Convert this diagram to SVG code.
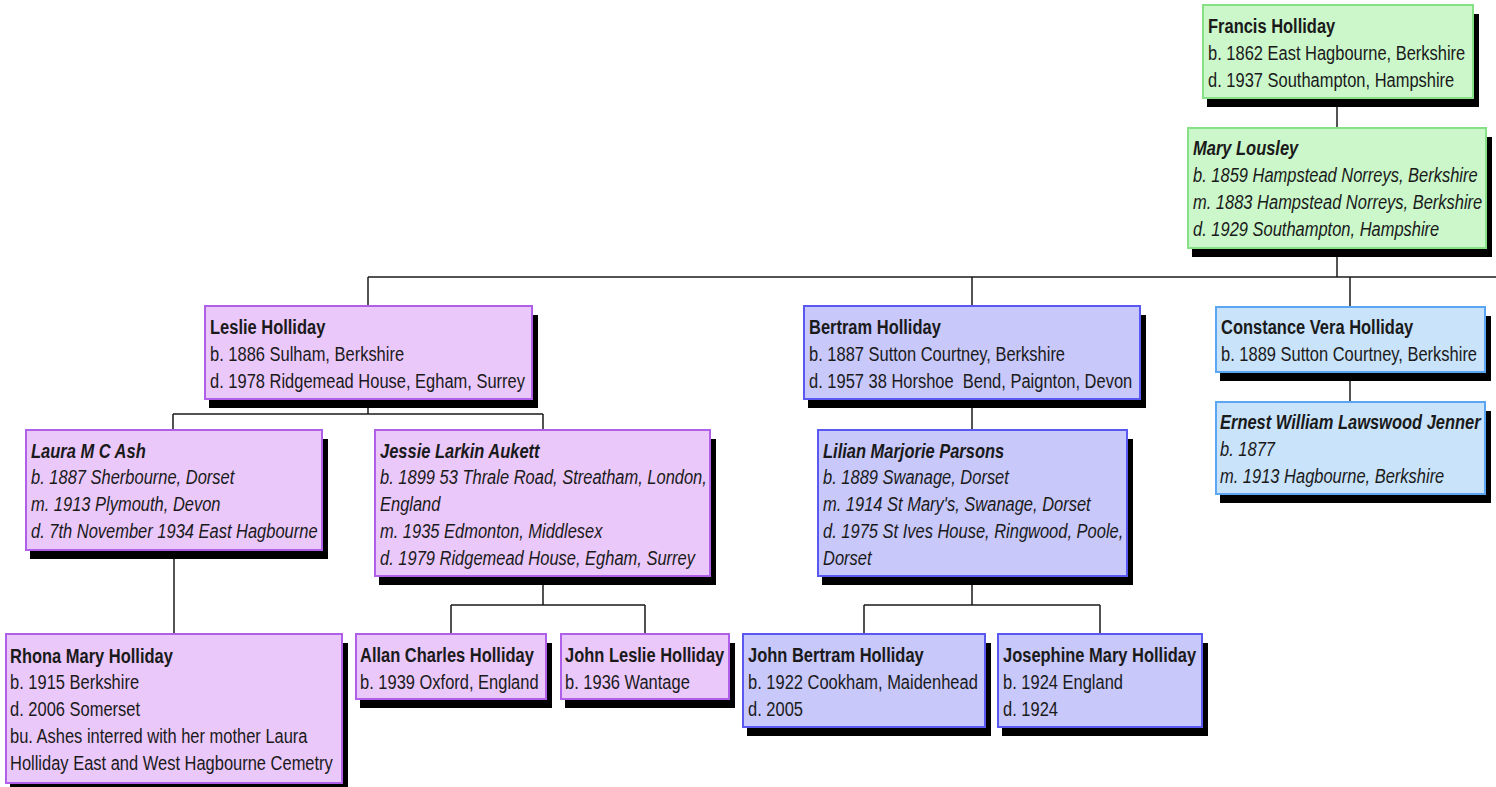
<svg xmlns="http://www.w3.org/2000/svg" width="1496" height="787" viewBox="0 0 1496 787">
<style>
  .bg { fill: #ffffff; }
  .s { fill: #000000; }
  .b { stroke-width: 2; }
  .g .b { fill: #cbf7cb; stroke: #86e086; }
  .p .b { fill: #eac8fa; stroke: #b05fe8; }
  .v .b { fill: #c8c8fa; stroke: #5959f2; }
  .c .b { fill: #c9e3fb; stroke: #5aa6f2; }
  .t { font-family: "Liberation Sans", Arial, sans-serif; font-size: 21px; fill: #1a1a1a; }
  .i { font-style: italic; }
  .n { font-weight: bold; }
  #connectors path { fill: none; stroke: #1a1a1a; stroke-width: 1.5; }
</style>
<rect class="bg" x="0" y="0" width="1496" height="787"/>

<g id="connectors">
  <path d="M1337,98 V128"/>
  <path d="M1337,248 V277"/>
  <path d="M368,277 H1496"/>
  <path d="M368,277 V306"/>
  <path d="M972,277 V306"/>
  <path d="M1350,277 V307"/>
  <path d="M1350,372 V402"/>
  <path d="M368,399 V414 M173,414 H543 M173,414 V430 M543,414 V430"/>
  <path d="M174,550 V634"/>
  <path d="M543,576 V605 M451,605 H645 M451,605 V634 M645,605 V634"/>
  <path d="M972,399 V430"/>
  <path d="M972,576 V605 M864,605 H1100 M864,605 V634 M1100,605 V634"/>
</g>

<g id="n-francis" class="g">
  <rect class="s" x="1207" y="14" width="272" height="93"/>
  <rect class="b" x="1203" y="5" width="270" height="93"/>
  <text class="t" transform="translate(1208,33) scale(0.785,1)"><tspan class="n" x="0" y="0">Francis Holliday</tspan><tspan x="0" dy="27">b. 1862 East Hagbourne, Berkshire</tspan><tspan x="0" dy="27">d. 1937 Southampton, Hampshire</tspan></text>
</g>

<g id="n-mary" class="g">
  <rect class="s" x="1192" y="137" width="300" height="120"/>
  <rect class="b" x="1188" y="128" width="298" height="120"/>
  <text class="t i" transform="translate(1193,155) scale(0.785,1)"><tspan class="n" x="0" y="0">Mary Lousley</tspan><tspan x="0" dy="27">b. 1859 Hampstead Norreys, Berkshire</tspan><tspan x="0" dy="27">m. 1883 Hampstead Norreys, Berkshire</tspan><tspan x="0" dy="27">d. 1929 Southampton, Hampshire</tspan></text>
</g>

<g id="n-leslie" class="p">
  <rect class="s" x="209" y="315" width="329" height="93"/>
  <rect class="b" x="205" y="306" width="327" height="93"/>
  <text class="t" transform="translate(210,334) scale(0.785,1)"><tspan class="n" x="0" y="0">Leslie Holliday</tspan><tspan x="0" dy="27">b. 1886 Sulham, Berkshire</tspan><tspan x="0" dy="27">d. 1978 Ridgemead House, Egham, Surrey</tspan></text>
</g>

<g id="n-laura" class="p">
  <rect class="s" x="30" y="439" width="298" height="120"/>
  <rect class="b" x="26" y="430" width="296" height="120"/>
  <text class="t i" transform="translate(31,457.5) scale(0.785,1)"><tspan class="n" x="0" y="0">Laura M C Ash</tspan><tspan x="0" dy="27">b. 1887 Sherbourne, Dorset</tspan><tspan x="0" dy="27">m. 1913 Plymouth, Devon</tspan><tspan x="0" dy="27">d. 7th November 1934 East Hagbourne</tspan></text>
</g>

<g id="n-jessie" class="p">
  <rect class="s" x="379" y="439" width="337" height="146"/>
  <rect class="b" x="375" y="430" width="335" height="146"/>
  <text class="t i" transform="translate(380,457.5) scale(0.785,1)"><tspan class="n" x="0" y="0">Jessie Larkin Aukett</tspan><tspan x="0" dy="27">b. 1899 53 Thrale Road, Streatham, London,</tspan><tspan x="0" dy="27">England</tspan><tspan x="0" dy="27">m. 1935 Edmonton, Middlesex</tspan><tspan x="0" dy="27">d. 1979 Ridgemead House, Egham, Surrey</tspan></text>
</g>

<g id="n-rhona" class="p">
  <rect class="s" x="10" y="643" width="338" height="149"/>
  <rect class="b" x="6" y="634" width="336" height="149"/>
  <text class="t" transform="translate(10,662.5) scale(0.785,1)"><tspan class="n" x="0" y="0">Rhona Mary Holliday</tspan><tspan x="0" dy="27">b. 1915 Berkshire</tspan><tspan x="0" dy="27">d. 2006 Somerset</tspan><tspan x="0" dy="27">bu. Ashes interred with her mother Laura</tspan><tspan x="0" dy="27">Holliday East and West Hagbourne Cemetry</tspan></text>
</g>

<g id="n-allan" class="p">
  <rect class="s" x="360" y="643" width="192" height="65"/>
  <rect class="b" x="356" y="634" width="190" height="65"/>
  <text class="t" transform="translate(360,662) scale(0.785,1)"><tspan class="n" x="0" y="0">Allan Charles Holliday</tspan><tspan x="0" dy="27">b. 1939 Oxford, England</tspan></text>
</g>

<g id="n-johnleslie" class="p">
  <rect class="s" x="565" y="643" width="170" height="65"/>
  <rect class="b" x="561" y="634" width="168" height="65"/>
  <text class="t" transform="translate(565,662) scale(0.785,1)"><tspan class="n" x="0" y="0">John Leslie Holliday</tspan><tspan x="0" dy="27">b. 1936 Wantage</tspan></text>
</g>

<g id="n-bertram" class="v">
  <rect class="s" x="808" y="315" width="338" height="93"/>
  <rect class="b" x="804" y="306" width="336" height="93"/>
  <text class="t" transform="translate(809,334) scale(0.785,1)"><tspan class="n" x="0" y="0">Bertram Holliday</tspan><tspan x="0" dy="27">b. 1887 Sutton Courtney, Berkshire</tspan><tspan x="0" dy="27">d. 1957 38 Horshoe &#160;Bend, Paignton, Devon</tspan></text>
</g>

<g id="n-lilian" class="v">
  <rect class="s" x="822" y="439" width="311" height="146"/>
  <rect class="b" x="818" y="430" width="309" height="146"/>
  <text class="t i" transform="translate(823,457.5) scale(0.785,1)"><tspan class="n" x="0" y="0">Lilian Marjorie Parsons</tspan><tspan x="0" dy="27">b. 1889 Swanage, Dorset</tspan><tspan x="0" dy="27">m. 1914 St Mary's, Swanage, Dorset</tspan><tspan x="0" dy="27">d. 1975 St Ives House, Ringwood, Poole,</tspan><tspan x="0" dy="27">Dorset</tspan></text>
</g>

<g id="n-johnbertram" class="v">
  <rect class="s" x="747" y="643" width="244" height="93"/>
  <rect class="b" x="743" y="634" width="242" height="93"/>
  <text class="t" transform="translate(748,662) scale(0.785,1)"><tspan class="n" x="0" y="0">John Bertram Holliday</tspan><tspan x="0" dy="27">b. 1922 Cookham, Maidenhead</tspan><tspan x="0" dy="27">d. 2005</tspan></text>
</g>

<g id="n-josephine" class="v">
  <rect class="s" x="1002" y="643" width="206" height="93"/>
  <rect class="b" x="998" y="634" width="204" height="93"/>
  <text class="t" transform="translate(1003,662) scale(0.785,1)"><tspan class="n" x="0" y="0">Josephine Mary Holliday</tspan><tspan x="0" dy="27">b. 1924 England</tspan><tspan x="0" dy="27">d. 1924</tspan></text>
</g>

<g id="n-constance" class="c">
  <rect class="s" x="1220" y="316" width="271" height="65"/>
  <rect class="b" x="1216" y="307" width="269" height="65"/>
  <text class="t" transform="translate(1221,334) scale(0.785,1)"><tspan class="n" x="0" y="0">Constance Vera Holliday</tspan><tspan x="0" dy="27">b. 1889 Sutton Courtney, Berkshire</tspan></text>
</g>

<g id="n-ernest" class="c">
  <rect class="s" x="1220" y="411" width="271" height="92"/>
  <rect class="b" x="1216" y="402" width="269" height="92"/>
  <text class="t i" transform="translate(1220,429) scale(0.785,1)"><tspan class="n" x="0" y="0">Ernest William Lawswood Jenner</tspan><tspan x="0" dy="27">b. 1877</tspan><tspan x="0" dy="27">m. 1913 Hagbourne, Berkshire</tspan></text>
</g>
</svg>
